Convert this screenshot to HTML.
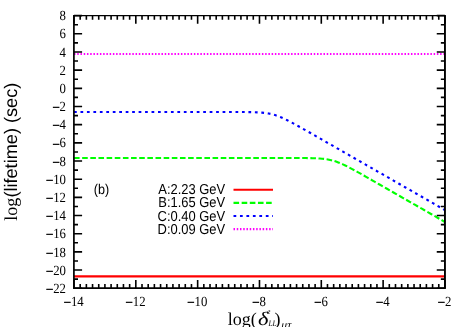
<!DOCTYPE html>
<html><head><meta charset="utf-8"><title>plot</title>
<style>html,body{margin:0;padding:0;background:#fff;overflow:hidden}svg{display:block;will-change:transform}text{text-rendering:geometricPrecision}</style></head>
<body>
<svg width="467" height="327" viewBox="0 0 467 327">
<rect width="467" height="327" fill="#fff"/>
<path d="M74.00,54.00 H444.95" stroke="#ff00ff" stroke-width="2.1" stroke-dasharray="1.5 1.74" fill="none"/>
<path d="M74.0,112.0 L229.3,112.0 L231.7,112.01 L236.3,112.01 L238.6,112.02 L240.9,112.03 L243.2,112.04 L245.6,112.06 L247.9,112.09 L250.2,112.12 L252.5,112.17 L254.8,112.24 L257.2,112.33 L259.5,112.46 L261.8,112.63 L264.1,112.86 L266.4,113.16 L268.7,113.54 L271.1,114.02 L273.4,114.61 L275.7,115.31 L278.0,116.12 L280.3,117.03 L282.7,118.03 L285.0,119.1 L287.3,120.24 L289.6,121.43 L291.9,122.65 L294.3,123.9 L296.6,125.18 L298.9,126.46 L301.2,127.76 L303.5,129.07 L305.8,130.39 L308.2,131.7 L310.5,133.02 L312.8,134.35 L315.1,135.67 L317.4,137.0 L319.8,138.33 L322.1,139.65 L324.4,140.98 L326.7,142.31 L329.0,143.64 L331.3,144.96 L333.7,146.29 L336.0,147.62 L338.3,148.95 L340.6,150.28 L342.9,151.61 L345.3,152.94 L347.6,154.26 L349.9,155.59 L352.2,156.92 L354.5,158.25 L356.8,159.58 L359.2,160.91 L361.5,162.24 L363.8,163.57 L366.1,164.89 L368.4,166.22 L370.8,167.55 L373.1,168.88 L375.4,170.21 L377.7,171.54 L380.0,172.87 L382.4,174.19 L384.7,175.52 L387.0,176.85 L389.3,178.18 L391.6,179.51 L393.9,180.84 L396.3,182.17 L398.6,183.5 L400.9,184.82 L403.2,186.15 L405.5,187.48 L407.9,188.81 L410.2,190.14 L412.5,191.47 L414.8,192.8 L417.1,194.12 L419.4,195.45 L421.8,196.78 L424.1,198.11 L426.4,199.44 L428.7,200.77 L431.0,202.1 L433.4,203.43 L435.7,204.75 L438.0,206.08 L440.3,207.41 L442.6,208.74 L444.9,210.07" stroke="#0000ff" stroke-width="2.1" stroke-dasharray="2.75 3.71" fill="none"/>
<path d="M74.0,158.0 L280.3,158.0 L282.7,158.01 L291.9,158.01 L294.3,158.02 L296.6,158.02 L298.9,158.03 L301.2,158.04 L303.5,158.05 L305.8,158.07 L308.2,158.1 L310.5,158.14 L312.8,158.2 L315.1,158.27 L317.4,158.38 L319.8,158.52 L322.1,158.71 L324.4,158.95 L326.7,159.28 L329.0,159.69 L331.3,160.21 L333.7,160.83 L336.0,161.57 L338.3,162.41 L340.6,163.35 L342.9,164.38 L345.3,165.48 L347.6,166.64 L349.9,167.84 L352.2,169.07 L354.5,170.33 L356.8,171.61 L359.2,172.9 L361.5,174.2 L363.8,175.51 L366.1,176.83 L368.4,178.15 L370.8,179.47 L373.1,180.79 L375.4,182.12 L377.7,183.44 L380.0,184.77 L382.4,186.1 L384.7,187.43 L387.0,188.75 L389.3,190.08 L391.6,191.41 L393.9,192.74 L396.3,194.07 L398.6,195.4 L400.9,196.73 L403.2,198.05 L405.5,199.38 L407.9,200.71 L410.2,202.04 L412.5,203.37 L414.8,204.7 L417.1,206.03 L419.4,207.35 L421.8,208.68 L424.1,210.01 L426.4,211.34 L428.7,212.67 L431.0,214.0 L433.4,215.33 L435.7,216.66 L438.0,217.98 L440.3,219.31 L442.6,220.64 L444.9,221.97" stroke="#00ff00" stroke-width="2.1" stroke-dasharray="5.6 2.55" fill="none"/>
<path d="M74.00,276.39 H444.95" stroke="#ff0000" stroke-width="2.1" fill="none"/>
<path d="M74.00,288.1 v-8.1 M74.00,15.7 v8.1 M80.18,288.1 v-4.1 M80.18,15.7 v4.1 M86.37,288.1 v-4.1 M86.37,15.7 v4.1 M92.55,288.1 v-4.1 M92.55,15.7 v4.1 M98.73,288.1 v-4.1 M98.73,15.7 v4.1 M104.91,288.1 v-4.1 M104.91,15.7 v4.1 M111.09,288.1 v-4.1 M111.09,15.7 v4.1 M117.28,288.1 v-4.1 M117.28,15.7 v4.1 M123.46,288.1 v-4.1 M123.46,15.7 v4.1 M129.64,288.1 v-4.1 M129.64,15.7 v4.1 M135.82,288.1 v-8.1 M135.82,15.7 v8.1 M142.01,288.1 v-4.1 M142.01,15.7 v4.1 M148.19,288.1 v-4.1 M148.19,15.7 v4.1 M154.37,288.1 v-4.1 M154.37,15.7 v4.1 M160.56,288.1 v-4.1 M160.56,15.7 v4.1 M166.74,288.1 v-4.1 M166.74,15.7 v4.1 M172.92,288.1 v-4.1 M172.92,15.7 v4.1 M179.10,288.1 v-4.1 M179.10,15.7 v4.1 M185.28,288.1 v-4.1 M185.28,15.7 v4.1 M191.47,288.1 v-4.1 M191.47,15.7 v4.1 M197.65,288.1 v-8.1 M197.65,15.7 v8.1 M203.83,288.1 v-4.1 M203.83,15.7 v4.1 M210.02,288.1 v-4.1 M210.02,15.7 v4.1 M216.20,288.1 v-4.1 M216.20,15.7 v4.1 M222.38,288.1 v-4.1 M222.38,15.7 v4.1 M228.56,288.1 v-4.1 M228.56,15.7 v4.1 M234.74,288.1 v-4.1 M234.74,15.7 v4.1 M240.93,288.1 v-4.1 M240.93,15.7 v4.1 M247.11,288.1 v-4.1 M247.11,15.7 v4.1 M253.29,288.1 v-4.1 M253.29,15.7 v4.1 M259.48,288.1 v-8.1 M259.48,15.7 v8.1 M265.66,288.1 v-4.1 M265.66,15.7 v4.1 M271.84,288.1 v-4.1 M271.84,15.7 v4.1 M278.02,288.1 v-4.1 M278.02,15.7 v4.1 M284.21,288.1 v-4.1 M284.21,15.7 v4.1 M290.39,288.1 v-4.1 M290.39,15.7 v4.1 M296.57,288.1 v-4.1 M296.57,15.7 v4.1 M302.75,288.1 v-4.1 M302.75,15.7 v4.1 M308.94,288.1 v-4.1 M308.94,15.7 v4.1 M315.12,288.1 v-4.1 M315.12,15.7 v4.1 M321.30,288.1 v-8.1 M321.30,15.7 v8.1 M327.48,288.1 v-4.1 M327.48,15.7 v4.1 M333.67,288.1 v-4.1 M333.67,15.7 v4.1 M339.85,288.1 v-4.1 M339.85,15.7 v4.1 M346.03,288.1 v-4.1 M346.03,15.7 v4.1 M352.21,288.1 v-4.1 M352.21,15.7 v4.1 M358.40,288.1 v-4.1 M358.40,15.7 v4.1 M364.58,288.1 v-4.1 M364.58,15.7 v4.1 M370.76,288.1 v-4.1 M370.76,15.7 v4.1 M376.94,288.1 v-4.1 M376.94,15.7 v4.1 M383.12,288.1 v-8.1 M383.12,15.7 v8.1 M389.31,288.1 v-4.1 M389.31,15.7 v4.1 M395.49,288.1 v-4.1 M395.49,15.7 v4.1 M401.67,288.1 v-4.1 M401.67,15.7 v4.1 M407.86,288.1 v-4.1 M407.86,15.7 v4.1 M414.04,288.1 v-4.1 M414.04,15.7 v4.1 M420.22,288.1 v-4.1 M420.22,15.7 v4.1 M426.40,288.1 v-4.1 M426.40,15.7 v4.1 M432.59,288.1 v-4.1 M432.59,15.7 v4.1 M438.77,288.1 v-4.1 M438.77,15.7 v4.1 M444.95,288.1 v-8.1 M444.95,15.7 v8.1 M73.9,288.20 h8.2 M444.95,288.20 h-8.2 M73.9,279.12 h4.1 M444.95,279.12 h-4.1 M73.9,270.03 h8.2 M444.95,270.03 h-8.2 M73.9,260.94 h4.1 M444.95,260.94 h-4.1 M73.9,251.86 h8.2 M444.95,251.86 h-8.2 M73.9,242.78 h4.1 M444.95,242.78 h-4.1 M73.9,233.69 h8.2 M444.95,233.69 h-8.2 M73.9,224.61 h4.1 M444.95,224.61 h-4.1 M73.9,215.52 h8.2 M444.95,215.52 h-8.2 M73.9,206.44 h4.1 M444.95,206.44 h-4.1 M73.9,197.35 h8.2 M444.95,197.35 h-8.2 M73.9,188.27 h4.1 M444.95,188.27 h-4.1 M73.9,179.18 h8.2 M444.95,179.18 h-8.2 M73.9,170.09 h4.1 M444.95,170.09 h-4.1 M73.9,161.01 h8.2 M444.95,161.01 h-8.2 M73.9,151.93 h4.1 M444.95,151.93 h-4.1 M73.9,142.84 h8.2 M444.95,142.84 h-8.2 M73.9,133.75 h4.1 M444.95,133.75 h-4.1 M73.9,124.67 h8.2 M444.95,124.67 h-8.2 M73.9,115.59 h4.1 M444.95,115.59 h-4.1 M73.9,106.50 h8.2 M444.95,106.50 h-8.2 M73.9,97.42 h4.1 M444.95,97.42 h-4.1 M73.9,88.33 h8.2 M444.95,88.33 h-8.2 M73.9,79.25 h4.1 M444.95,79.25 h-4.1 M73.9,70.16 h8.2 M444.95,70.16 h-8.2 M73.9,61.07 h4.1 M444.95,61.07 h-4.1 M73.9,51.99 h8.2 M444.95,51.99 h-8.2 M73.9,42.91 h4.1 M444.95,42.91 h-4.1 M73.9,33.82 h8.2 M444.95,33.82 h-8.2 M73.9,24.73 h4.1 M444.95,24.73 h-4.1 M73.9,15.65 h8.2 M444.95,15.65 h-8.2" stroke="#000" stroke-width="1.6" fill="none"/>
<path d="M73.05,15.0 H445.9 V288.95 H73.05 Z M74.75,16.35 V287.3 H444.0 V16.35 Z" fill="#000" fill-rule="evenodd"/>
<g font-family="'Liberation Serif', serif" fill="#000">
<text transform="translate(66.00,292.85) scale(1,1.09)" font-size="12.8" text-anchor="end"><tspan dy="1.0" stroke="#000" stroke-width="0.5">−</tspan><tspan dy="-1.0">22</tspan></text>
<text transform="translate(66.00,274.68) scale(1,1.09)" font-size="12.8" text-anchor="end"><tspan dy="1.0" stroke="#000" stroke-width="0.5">−</tspan><tspan dy="-1.0">20</tspan></text>
<text transform="translate(66.00,256.51) scale(1,1.09)" font-size="12.8" text-anchor="end"><tspan dy="1.0" stroke="#000" stroke-width="0.5">−</tspan><tspan dy="-1.0">18</tspan></text>
<text transform="translate(66.00,238.34) scale(1,1.09)" font-size="12.8" text-anchor="end"><tspan dy="1.0" stroke="#000" stroke-width="0.5">−</tspan><tspan dy="-1.0">16</tspan></text>
<text transform="translate(66.00,220.17) scale(1,1.09)" font-size="12.8" text-anchor="end"><tspan dy="1.0" stroke="#000" stroke-width="0.5">−</tspan><tspan dy="-1.0">14</tspan></text>
<text transform="translate(66.00,202.00) scale(1,1.09)" font-size="12.8" text-anchor="end"><tspan dy="1.0" stroke="#000" stroke-width="0.5">−</tspan><tspan dy="-1.0">12</tspan></text>
<text transform="translate(66.00,183.83) scale(1,1.09)" font-size="12.8" text-anchor="end"><tspan dy="1.0" stroke="#000" stroke-width="0.5">−</tspan><tspan dy="-1.0">10</tspan></text>
<text transform="translate(66.00,165.66) scale(1,1.09)" font-size="12.8" text-anchor="end"><tspan dy="1.0" stroke="#000" stroke-width="0.5">−</tspan><tspan dy="-1.0">8</tspan></text>
<text transform="translate(66.00,147.49) scale(1,1.09)" font-size="12.8" text-anchor="end"><tspan dy="1.0" stroke="#000" stroke-width="0.5">−</tspan><tspan dy="-1.0">6</tspan></text>
<text transform="translate(66.00,129.32) scale(1,1.09)" font-size="12.8" text-anchor="end"><tspan dy="1.0" stroke="#000" stroke-width="0.5">−</tspan><tspan dy="-1.0">4</tspan></text>
<text transform="translate(66.00,111.15) scale(1,1.09)" font-size="12.8" text-anchor="end"><tspan dy="1.0" stroke="#000" stroke-width="0.5">−</tspan><tspan dy="-1.0">2</tspan></text>
<text transform="translate(66.00,92.98) scale(1,1.09)" font-size="12.8" text-anchor="end">0</text>
<text transform="translate(66.00,74.81) scale(1,1.09)" font-size="12.8" text-anchor="end">2</text>
<text transform="translate(66.00,56.64) scale(1,1.09)" font-size="12.8" text-anchor="end">4</text>
<text transform="translate(66.00,38.47) scale(1,1.09)" font-size="12.8" text-anchor="end">6</text>
<text transform="translate(66.00,20.30) scale(1,1.09)" font-size="12.8" text-anchor="end">8</text>
<text transform="translate(73.70,305.60) scale(1,1.09)" font-size="12.8" text-anchor="middle"><tspan dy="1.0" stroke="#000" stroke-width="0.5">−</tspan><tspan dy="-1.0">14</tspan></text>
<text transform="translate(135.52,305.60) scale(1,1.09)" font-size="12.8" text-anchor="middle"><tspan dy="1.0" stroke="#000" stroke-width="0.5">−</tspan><tspan dy="-1.0">12</tspan></text>
<text transform="translate(197.35,305.60) scale(1,1.09)" font-size="12.8" text-anchor="middle"><tspan dy="1.0" stroke="#000" stroke-width="0.5">−</tspan><tspan dy="-1.0">10</tspan></text>
<text transform="translate(259.18,305.60) scale(1,1.09)" font-size="12.8" text-anchor="middle"><tspan dy="1.0" stroke="#000" stroke-width="0.5">−</tspan><tspan dy="-1.0">8</tspan></text>
<text transform="translate(321.00,305.60) scale(1,1.09)" font-size="12.8" text-anchor="middle"><tspan dy="1.0" stroke="#000" stroke-width="0.5">−</tspan><tspan dy="-1.0">6</tspan></text>
<text transform="translate(382.82,305.60) scale(1,1.09)" font-size="12.8" text-anchor="middle"><tspan dy="1.0" stroke="#000" stroke-width="0.5">−</tspan><tspan dy="-1.0">4</tspan></text>
<text transform="translate(444.65,305.60) scale(1,1.09)" font-size="12.8" text-anchor="middle"><tspan dy="1.0" stroke="#000" stroke-width="0.5">−</tspan><tspan dy="-1.0">2</tspan></text>
</g>
<g font-family="'Liberation Sans', sans-serif" fill="#000">
<text transform="translate(225.20,194.30) scale(1,1.11)" font-size="12.95" text-anchor="end">A:2.23 GeV</text>
<path d="M233.5,189.70 H273" stroke="#ff0000" stroke-width="2.1" fill="none"/>
<text transform="translate(225.20,207.45) scale(1,1.11)" font-size="12.95" text-anchor="end">B:1.65 GeV</text>
<path d="M233.5,202.85 H273" stroke="#00ff00" stroke-width="2.1" stroke-dasharray="5.6 2.55" fill="none"/>
<text transform="translate(225.20,220.60) scale(1,1.11)" font-size="12.95" text-anchor="end">C:0.40 GeV</text>
<path d="M233.5,216.00 H273" stroke="#0000ff" stroke-width="2.1" stroke-dasharray="2.75 3.71" fill="none"/>
<text transform="translate(225.20,233.75) scale(1,1.11)" font-size="12.95" text-anchor="end">D:0.09 GeV</text>
<path d="M233.5,229.15 H273" stroke="#ff00ff" stroke-width="2.1" stroke-dasharray="1.5 1.74" fill="none"/>
<text transform="translate(93.80,194.10) scale(1,1.11)" font-size="12.6" text-anchor="start">(b)</text>
</g>
<text transform="translate(17.3,220.8) rotate(-90)" font-family="'Liberation Sans', sans-serif" font-size="18.15" fill="#000"><tspan font-family="'Liberation Serif', serif">log</tspan>(lifetime) (sec)</text>
<g font-family="'Liberation Serif', serif" fill="#000">
<text x="227.8" y="324.5" font-size="18">log(</text>
<text transform="translate(258.0,325.3) scale(1.18,1)" font-size="19" font-style="italic">δ</text>
<text x="267.0" y="314.4" font-size="7.8" font-style="italic">e</text>
<text transform="translate(268.4,325.8) scale(0.86,1)" font-size="8.6" font-style="italic">LL</text>
<text x="274.4" y="324.6" font-size="18">)</text>
<text transform="translate(281.3,327.7) scale(1.15,1)" font-size="10.2" font-style="italic">μτ</text>
</g>
</svg>
</body></html>
